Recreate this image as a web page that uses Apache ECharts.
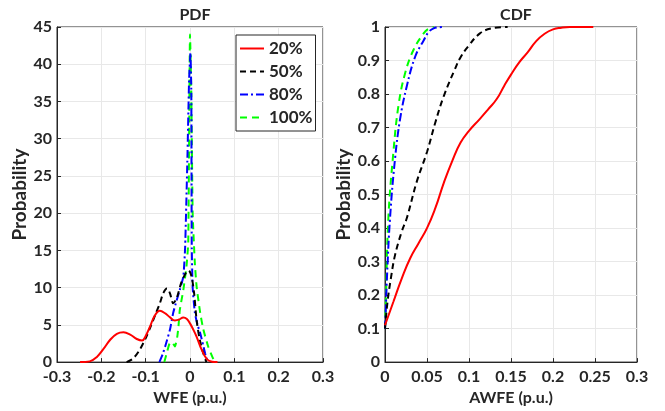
<!DOCTYPE html>
<html>
<head>
<meta charset="utf-8">
<script src="https://cdn.jsdelivr.net/npm/echarts@6/dist/echarts.min.js"></script>
<style>
  html, body { margin: 0; padding: 0; background: #fff; }
  #chart { width: 665px; height: 411px; }
</style>
</head>
<body>
<div id="chart"></div>
<script>
// PDF curves, [WFE, probability density]
const pdf20 = [[-0.248, 0], [-0.226, 0.1], [-0.21, 0.7], [-0.196, 1.7], [-0.18, 3.0], [-0.165, 3.8], [-0.15, 4.0], [-0.135, 3.7], [-0.12, 3.1], [-0.108, 2.9], [-0.1, 3.5], [-0.09, 4.8], [-0.08, 6.2], [-0.068, 6.9], [-0.055, 6.5], [-0.045, 6.0], [-0.034, 5.6], [-0.025, 5.7], [-0.015, 6.0], [-0.007, 5.8], [0, 5.2], [0.008, 4.3], [0.015, 3.4], [0.026, 1.7], [0.038, 0.4], [0.05, 0.05], [0.062, 0]]
const pdf50 = [[-0.143, 0], [-0.128, 0.5], [-0.113, 1.7], [-0.1, 3.2], [-0.09, 4.6], [-0.078, 6.4], [-0.068, 7.9], [-0.06, 9.3], [-0.052, 9.9], [-0.045, 9.2], [-0.038, 7.9], [-0.03, 8.6], [-0.02, 10.6], [-0.01, 11.9], [-0.003, 12.3], [0.003, 11.6], [0.009, 9.4], [0.015, 5.6], [0.022, 3.0], [0.03, 1.2], [0.037, 0]]
const pdf80 = [[-0.069, 0], [-0.062, 1.0], [-0.056, 2.1], [-0.045, 4.4], [-0.038, 6.6], [-0.03, 8.3], [-0.023, 9.7], [-0.015, 11.5], [-0.011, 15.4], [-0.006, 27], [-0.002, 38], [0.001, 41.5], [0.003, 36], [0.004, 15.4], [0.006, 10], [0.011, 6.6], [0.017, 5.0], [0.023, 3.9], [0.034, 1.2], [0.04, 0]]
const pdf100 = [[-0.058, 0], [-0.052, 1.3], [-0.045, 2.6], [-0.04, 2.6], [-0.034, 2.1], [-0.029, 3.3], [-0.026, 4.8], [-0.023, 7.0], [-0.015, 9.7], [-0.008, 12.8], [-0.004, 16], [-0.002, 30], [0, 44], [0.003, 36], [0.006, 20], [0.011, 13.2], [0.015, 10.1], [0.023, 6.6], [0.03, 4.4], [0.041, 2.1], [0.053, 0.4], [0.062, 0]]

// CDF curves, [AWFE, cumulative probability]
const cdf20 = [[0, 0.11], [0.01, 0.18], [0.02, 0.25], [0.03, 0.31], [0.04, 0.355], [0.05, 0.4], [0.06, 0.46], [0.07, 0.535], [0.08, 0.6], [0.09, 0.655], [0.1, 0.69], [0.113, 0.726], [0.123, 0.755], [0.133, 0.785], [0.142, 0.825], [0.15, 0.858], [0.16, 0.895], [0.17, 0.925], [0.18, 0.958], [0.19, 0.98], [0.2, 0.993], [0.21, 0.998], [0.22, 1], [0.248, 1]]
const cdf50 = [[0, 0.1], [0.003, 0.18], [0.007, 0.25], [0.012, 0.32], [0.02, 0.39], [0.026, 0.43], [0.038, 0.54], [0.05, 0.627], [0.06, 0.716], [0.07, 0.794], [0.083, 0.873], [0.09, 0.91], [0.099, 0.942], [0.113, 0.981], [0.127, 0.996], [0.146, 1]]
const cdf80 = [[0, 0.1], [0.001, 0.16], [0.002, 0.234], [0.006, 0.43], [0.012, 0.608], [0.018, 0.726], [0.026, 0.824], [0.036, 0.912], [0.046, 0.96], [0.052, 0.985], [0.058, 0.996], [0.068, 1]]
const cdf100 = [[0, 0.1], [0.001, 0.18], [0.004, 0.43], [0.01, 0.627], [0.016, 0.765], [0.024, 0.863], [0.034, 0.932], [0.046, 0.981], [0.052, 0.995], [0.058, 1]]

const names = ['20%', '50%', '80%', '100%']
const colors = ['#ff0000', '#000000', '#0000ff', '#00ff00']
const dashes = ['solid', [6, 4], [8, 3, 2, 3], [7, 5]]

const font = 'Lato, "Open Sans", sans-serif'
const axisColor = '#262626'

const chart = echarts.init(document.getElementById('chart'))

const makeX = (idx, min, max, interval, name) => ({
  type: 'value',
  gridIndex: idx,
  min, max, interval,
  name,
  nameLocation: 'middle',
  nameGap: 20,
  nameTextStyle: { fontFamily: font, fontWeight: 'bold', fontSize: 16, color: axisColor },
  axisLine: { show: true, onZero: false, lineStyle: { color: axisColor } },
  axisTick: { show: true, inside: true, length: 4, lineStyle: { color: axisColor } },
  axisLabel: { fontFamily: font, fontWeight: 'bold', fontSize: 16, color: axisColor, margin: 7 },
  splitLine: { show: true, lineStyle: { color: '#e8e8e8' } }
})

const makeY = (idx, min, max, interval, gap) => ({
  type: 'value',
  gridIndex: idx,
  min, max, interval,
  name: 'Probability',
  nameLocation: 'middle',
  nameGap: gap,
  nameTextStyle: { fontFamily: font, fontWeight: 'bold', fontSize: 19, color: axisColor },
  axisLine: { show: true, onZero: false, lineStyle: { color: axisColor } },
  axisTick: { show: true, inside: true, length: 4, lineStyle: { color: axisColor } },
  axisLabel: { fontFamily: font, fontWeight: 'bold', fontSize: 16, color: axisColor, margin: 5 },
  splitLine: { show: true, lineStyle: { color: '#e8e8e8' } }
})

const makeSeries = (data, i, gridIdx, smooth) => ({
  name: names[i],
  type: 'line',
  xAxisIndex: gridIdx,
  yAxisIndex: gridIdx,
  data,
  symbol: 'none',
  smooth,
  lineStyle: { color: colors[i], width: 2, type: dashes[i] },
  itemStyle: { color: colors[i] },
  z: 10 - i
})

const option = {
  animation: false,
  backgroundColor: '#fff',
  title: [
    { text: 'PDF', left: 190, top: 2, textAlign: 'center',
      textStyle: { fontFamily: font, fontWeight: 'bold', fontSize: 16, color: axisColor } },
    { text: 'CDF', left: 511, top: 2, textAlign: 'center',
      textStyle: { fontFamily: font, fontWeight: 'bold', fontSize: 16, color: axisColor } }
  ],
  legend: {
    data: names,
    orient: 'vertical',
    left: 236,
    top: 35,
    itemWidth: 24,
    itemHeight: 14,
    itemGap: 6,
    padding: [5, 3, 5, 3],
    backgroundColor: '#fff',
    borderColor: axisColor,
    borderWidth: 1,
    borderRadius: 0,
    itemStyle: { color: 'rgba(0,0,0,0)', borderWidth: 0 },
    textStyle: { fontFamily: font, fontWeight: 'bold', fontSize: 17, color: axisColor }
  },
  grid: [
    { left: 57, top: 27, width: 266, height: 339, show: true, borderColor: axisColor, borderWidth: 1 },
    { left: 385, top: 27, width: 252, height: 339, show: true, borderColor: axisColor, borderWidth: 1 }
  ],
  xAxis: [
    makeX(0, -0.3, 0.3, 0.1, 'WFE (p.u.)'),
    makeX(1, 0, 0.3, 0.05, 'AWFE (p.u.)')
  ],
  yAxis: [
    makeY(0, 0, 45, 5, 25),
    makeY(1, 0, 1, 0.1, 32)
  ],
  series: [
    makeSeries(pdf20, 0, 0, 0.4),
    makeSeries(pdf50, 1, 0, 0.3),
    makeSeries(pdf80, 2, 0, 0.15),
    makeSeries(pdf100, 3, 0, 0.15),
    makeSeries(cdf20, 0, 1, 0.5),
    makeSeries(cdf50, 1, 1, 0.4),
    makeSeries(cdf80, 2, 1, 0.4),
    makeSeries(cdf100, 3, 1, 0.4)
  ]
}

chart.setOption(option)
</script>
</body>
</html>
